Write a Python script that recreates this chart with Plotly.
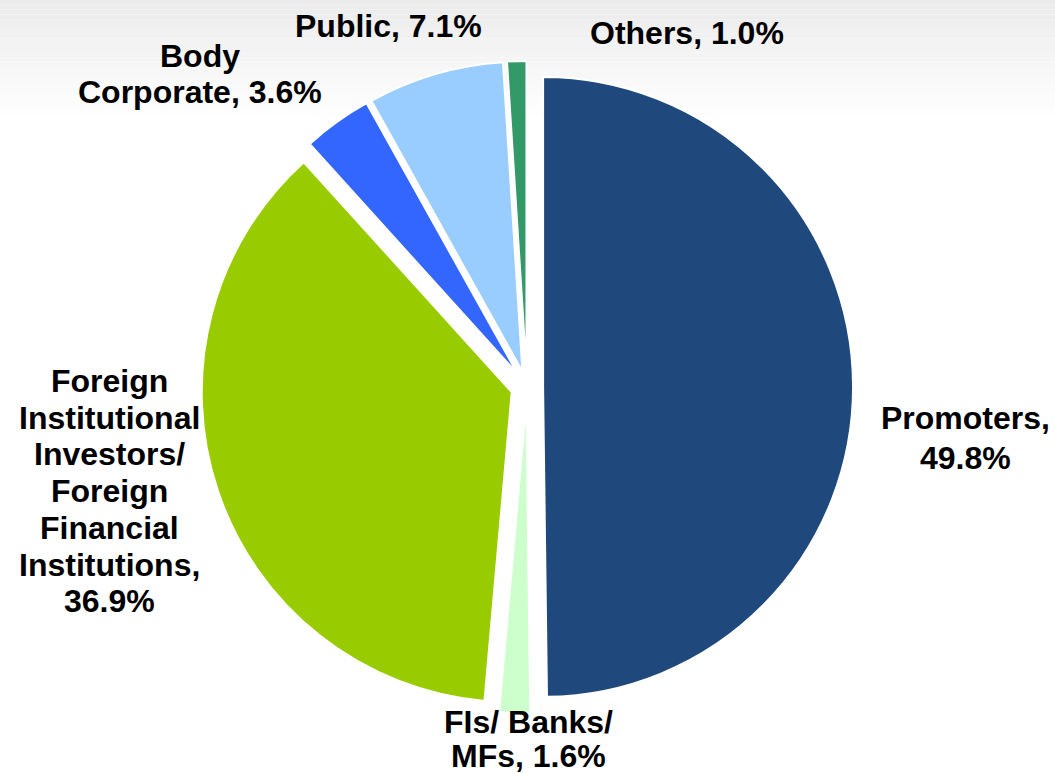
import plotly.graph_objects as go

# Shareholding pattern (per cent of equity)
categories = [
    "Promoters",
    "FIs/ Banks/ MFs",
    "Foreign Institutional Investors/ Foreign Financial Institutions",
    "Body Corporate",
    "Public",
    "Others",
]
shares = [49.8, 1.6, 36.9, 3.6, 7.1, 1.0]
slice_colors = ["#1F497D", "#CCFFCC", "#99CC00", "#3366FF", "#99CCFF", "#339966"]

# Label text as laid out on the chart
label_lines = [
    ["Promoters,"],
    ["FIs/ Banks/", "MFs,"],
    ["Foreign", "Institutional", "Investors/", "Foreign", "Financial", "Institutions,"],
    ["Body", "Corporate,"],
    ["Public,"],
    ["Others,"],
]
value_on_new_line = [True, False, True, False, False, False]

W, H = 1055, 773

fig = go.Figure(
    go.Pie(
        labels=categories,
        values=shares,
        sort=False,
        direction="clockwise",
        rotation=0,
        pull=[0.052] * len(shares),
        marker=dict(colors=slice_colors, line=dict(color="white", width=2)),
        textinfo="none",
        hoverinfo="label+percent",
        showlegend=False,
        domain=dict(x=[0.15, 0.849], y=[0.0775, 0.9212]),
    )
)

# label placement in pixels: x centre, y of first line, line pitch
label_pos = [
    (965, 418, 40),
    (528, 722, 34),
    (109, 381, 36.7),
    (200, 56, 36),
    (388, 26, 0),
    (687, 33, 0),
]


def label_rows(i):
    rows = list(label_lines[i])
    val = f"{shares[i]:.1f}%"
    if value_on_new_line[i]:
        rows.append(val)
    else:
        rows[-1] = rows[-1] + " " + val
    return rows


label_font = dict(family="Liberation Sans, Arial, sans-serif", size=32,
                  color="black", weight="bold")

annotations = []
for i, (px, py, pitch) in enumerate(label_pos):
    for j, row in enumerate(label_rows(i)):
        annotations.append(
            dict(
                text=row,
                x=px / W,
                y=1 - (py + j * pitch) / H,
                xref="paper",
                yref="paper",
                xanchor="center",
                yanchor="middle",
                showarrow=False,
                font=label_font,
            )
        )

# soft grey fade at the top of the page
shapes = []
steps = 24
band_px = 115
for k in range(steps):
    y0 = k * band_px / steps
    y1 = (k + 1) * band_px / steps
    g = int(0xEB + (0xFF - 0xEB) * (k + 0.5) / steps)
    shapes.append(
        dict(
            type="rect",
            xref="paper",
            yref="paper",
            x0=0,
            x1=1,
            y0=1 - y1 / H,
            y1=1 - y0 / H,
            fillcolor=f"rgb({g},{g},{g})",
            line=dict(width=0),
            layer="below",
        )
    )

fig.update_layout(
    width=W,
    height=H,
    margin=dict(l=0, r=0, t=0, b=0),
    paper_bgcolor="white",
    plot_bgcolor="white",
    annotations=annotations,
    shapes=shapes,
)

fig.write_html("out.html")
